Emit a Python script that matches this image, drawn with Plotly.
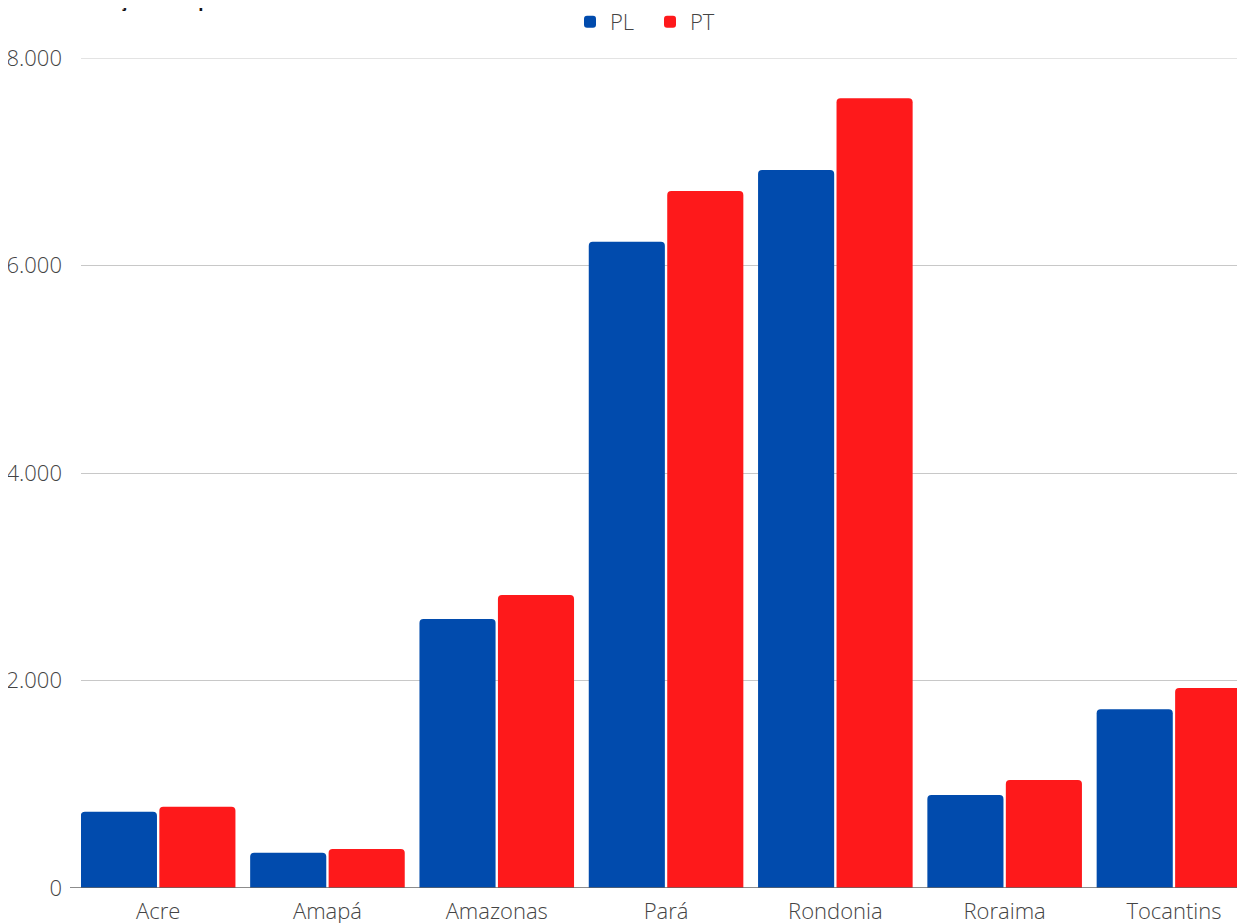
import plotly.graph_objects as go

estados = ["Acre", "Amapá", "Amazonas", "Pará", "Rondonia", "Roraima", "Tocantins"]
pl_vals = [735, 340, 2593, 6229, 6920, 896, 1722]
pt_vals = [783, 376, 2824, 6718, 7612, 1041, 1928]
y_ticks = [0, 2000, 4000, 6000, 8000]

BLUE = "#014BAD"
RED = "#FE191B"
FONT = "Open Sans"

fig = go.Figure()
fig.add_trace(go.Bar(name="PL", x=estados, y=pl_vals, marker=dict(color=BLUE, line=dict(width=0))))
fig.add_trace(go.Bar(name="PT", x=estados, y=pt_vals, marker=dict(color=RED, line=dict(width=0))))

W, H = 1237, 915
left, top, bottom = 73, 50, 35
cat_w = 169.3
x0 = -0.5 + (left - 65.5) / cat_w
x1 = x0 + (W - left) / cat_w
PW = W - left
PH = H - top - bottom

fig.update_layout(
    width=W, height=H,
    margin=dict(l=left, r=0, t=top, b=bottom, pad=0, autoexpand=False),
    paper_bgcolor="white", plot_bgcolor="white",
    separators=",.",
    barmode="group", bargap=0.073, bargroupgap=0.03,
    barcornerradius=4,
    font=dict(family=FONT, size=22, color="#444444", weight=300),
    showlegend=True,
    legend=dict(orientation="h", x=(650 - 8 - left) / PW, xanchor="center",
                y=1.0 + 36 / PH, yanchor="middle",
                font=dict(family=FONT, size=22, color="#444444", weight=300),
                itemwidth=30, entrywidth=35, entrywidthmode="pixels", tracegroupgap=0),
    xaxis=dict(range=[x0, x1], showgrid=False, showline=False, zeroline=False,
               ticks="", ticklabelstandoff=8, automargin=False,
               tickfont=dict(family=FONT, size=22, color="#444444", weight=300)),
    yaxis=dict(range=[0, 8000], tickvals=y_ticks, tickformat=",d", showgrid=True,
               gridcolor="#c8c8c8", gridwidth=1, zeroline=False, showline=False, ticks="",
               ticklabelstandoff=18, automargin=False,
               tickfont=dict(family=FONT, size=22, color="#444444", weight=300)),
    annotations=[dict(text="<b>Votação total por estado</b>", xref="paper", yref="paper",
                      x=-2 / PW, y=1.0 + 45 / PH, xanchor="left", yanchor="bottom",
                      showarrow=False, borderpad=0,
                      font=dict(family=FONT, size=17, color="#111111"))],
    shapes=[
        dict(type="line", xref="paper", yref="y", x0=0, x1=1, y0=8000, y1=8000,
             line=dict(color="#c8c8c8", width=1), layer="below"),
        dict(type="line", xref="paper", yref="y", x0=-11 / PW, x1=1, y0=0, y1=0,
             line=dict(color="#666666", width=1.5), layer="above"),
    ],
)

fig.write_html("out.html")
